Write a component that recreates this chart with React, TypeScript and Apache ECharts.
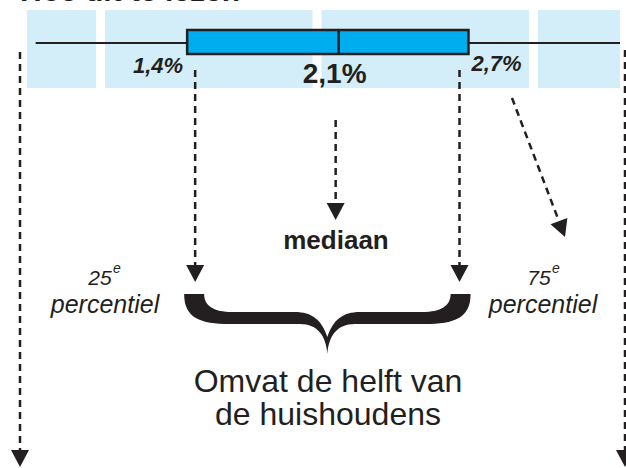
import React, { useEffect, useRef } from 'react';
import * as echarts from 'echarts';

// ---- data ----
const titleText = 'Hoe dit te lezen';
const bandEdges = [0.66, 1, 2, 3, 3.4]; // x-range, split at whole percentages
const boxStats = [0.7, 1.4, 2.1, 2.7, 3.4]; // whisker low, Q1, median, Q3, whisker high
const medianLabel = 'mediaan';
const lowerLabel = ['25', 'e', 'percentiel'];
const upperLabel = ['75', 'e', 'percentiel'];
const braceLabel = ['Omvat de helft van', 'de huishoudens'];

const bands = bandEdges.slice(0, -1).map((v, i) => [v, bandEdges[i + 1]]);

const DARK = '#231f20';
const FONT = '"Liberation Sans", Arial, sans-serif';

const BRACE_D =
  'M 0 0 C 0 24 16 30 46 30 L 116 30 C 134 30 142 42 143.5 60 ' +
  'C 145 42 153 30 171 30 L 241 30 C 271 30 287 24 287 0 L 267 0 ' +
  'C 267 12 257 18 239 18 L 176 18 C 159 18 149 26 143.5 43 ' +
  'C 138 26 128 18 111 18 L 48 18 C 30 18 20 12 20 0 Z';
const BRACE_W = 287;

let braceRegistered = false;
function ensureBrace() {
  if (braceRegistered) return;
  echarts.graphic.registerShape('brace', echarts.graphic.extendPath(BRACE_D, {}) as any);
  braceRegistered = true;
}

const fmt = (v: number) => v.toFixed(1).replace('.', ',') + '%';

function dashedArrow(x1: number, y1: number, x2: number, y2: number, head = 17, half = 9) {
  const dx = x2 - x1;
  const dy = y2 - y1;
  const len = Math.sqrt(dx * dx + dy * dy);
  const ux = dx / len;
  const uy = dy / len;
  const bx = x2 - ux * head;
  const by = y2 - uy * head;
  const px = -uy;
  const py = ux;
  return [
    {
      type: 'line',
      shape: { x1, y1, x2: bx, y2: by },
      style: { stroke: DARK, lineWidth: 2.5, lineDash: [7, 5] },
    },
    {
      type: 'polygon',
      shape: {
        points: [
          [bx + px * half, by + py * half],
          [bx - px * half, by - py * half],
          [x2, y2],
        ],
      },
      style: { fill: DARK },
    },
  ];
}

export default function App() {
  const ref = useRef<HTMLDivElement>(null);

  useEffect(() => {
    if (!ref.current) return;
    ensureBrace();
    const chart = echarts.init(ref.current, undefined, { renderer: 'svg' });

    const option: any = {
      animation: false,
      grid: {
        left: 27,
        right: 6,
        top: 10,
        height: 78,
        show: false,
      },
      xAxis: {
        type: 'value',
        min: bandEdges[0],
        max: bandEdges[bandEdges.length - 1],
        show: false,
      },
      yAxis: { type: 'value', min: 0, max: 1, show: false },
      series: [
        {
          type: 'custom',
          name: 'bands',
          silent: true,
          clip: false,
          data: bands,
          encode: { x: [0, 1] },
          renderItem: (params: any, api: any) => {
            const cs = params.coordSys;
            const s = api.value(0);
            const e = api.value(1);
            let x0 = api.coord([s, 0])[0];
            let x1 = api.coord([e, 0])[0];
            if (s > bandEdges[0]) x0 += 4.5;
            if (e < bandEdges[bandEdges.length - 1]) x1 -= 4.5;
            return {
              type: 'rect',
              shape: { x: x0, y: cs.y, width: x1 - x0, height: cs.height },
              style: { fill: '#d3edf9' },
            };
          },
        },
        {
          type: 'custom',
          name: 'box',
          silent: true,
          clip: false,
          z: 3,
          data: [boxStats],
          encode: { x: [0, 1, 2, 3, 4] },
          renderItem: (params: any, api: any) => {
            const cs = params.coordSys;
            const vals = [0, 1, 2, 3, 4].map((i) => api.value(i));
            const [lo, q1, med, q3, hi] = vals.map((v) => api.coord([v, 0])[0]);
            const top = cs.y;
            const yMid = top + 33;
            const boxTop = top + 20;
            const boxBot = top + 44;
            const children: any[] = [
              { type: 'line', shape: { x1: lo, y1: yMid, x2: q1, y2: yMid }, style: { stroke: DARK, lineWidth: 2 } },
              { type: 'line', shape: { x1: q3, y1: yMid, x2: hi, y2: yMid }, style: { stroke: DARK, lineWidth: 2 } },
              {
                type: 'rect',
                shape: { x: q1, y: boxTop, width: q3 - q1, height: boxBot - boxTop },
                style: { fill: '#00aeef', stroke: DARK, lineWidth: 2.5 },
              },
              { type: 'line', shape: { x1: med, y1: boxTop, x2: med, y2: boxBot }, style: { stroke: DARK, lineWidth: 2.5 } },
              {
                type: 'text',
                x: q1 - 4,
                y: top + 55,
                style: {
                  text: fmt(vals[1]), fill: DARK, fontFamily: FONT, fontSize: 22,
                  fontWeight: 'bold', fontStyle: 'italic', align: 'right', verticalAlign: 'middle',
                },
              },
              {
                type: 'text',
                x: q3 + 3,
                y: top + 53,
                style: {
                  text: fmt(vals[3]), fill: DARK, fontFamily: FONT, fontSize: 22,
                  fontWeight: 'bold', fontStyle: 'italic', align: 'left', verticalAlign: 'middle',
                },
              },
              {
                type: 'text',
                x: med - 4,
                y: top + 63,
                style: {
                  text: fmt(vals[2]), fill: DARK, fontFamily: FONT, fontSize: 28,
                  fontWeight: 'bold', align: 'center', verticalAlign: 'middle',
                },
              },
              ...dashedArrow(q1 + 8, 70, q1 + 8, 282),
              ...dashedArrow(q3 - 9, 70, q3 - 9, 282),
              ...dashedArrow(med - 3, 120, med - 3, 220),
              {
                type: 'brace',
                x: q1 - 3,
                y: 294,
                scaleX: (q3 + 2 - (q1 - 3)) / BRACE_W,
                scaleY: 1,
                style: { fill: DARK },
              },
            ];
            return { type: 'group', children };
          },
        },
      ],
      graphic: [
        {
          type: 'text', left: 20, top: -25,
          style: { text: titleText, fill: DARK, fontFamily: FONT, fontSize: 30, fontWeight: 'bold' },
        },
        {
          type: 'text', x: 336, y: 240,
          style: { text: medianLabel, fill: DARK, fontFamily: FONT, fontSize: 26, fontWeight: 'bold', align: 'center', verticalAlign: 'middle' },
        },
        {
          type: 'text', x: 100, y: 277,
          style: { text: lowerLabel[0], fill: DARK, fontFamily: FONT, fontSize: 21, fontStyle: 'italic', align: 'center', verticalAlign: 'middle' },
        },
        {
          type: 'text', x: 113, y: 268,
          style: { text: lowerLabel[1], fill: DARK, fontFamily: FONT, fontSize: 14, fontStyle: 'italic', align: 'left', verticalAlign: 'middle' },
        },
        {
          type: 'text', x: 105, y: 304,
          style: { text: lowerLabel[2], fill: DARK, fontFamily: FONT, fontSize: 25, fontStyle: 'italic', align: 'center', verticalAlign: 'middle' },
        },
        {
          type: 'text', x: 539, y: 277,
          style: { text: upperLabel[0], fill: DARK, fontFamily: FONT, fontSize: 21, fontStyle: 'italic', align: 'center', verticalAlign: 'middle' },
        },
        {
          type: 'text', x: 552, y: 268,
          style: { text: upperLabel[1], fill: DARK, fontFamily: FONT, fontSize: 14, fontStyle: 'italic', align: 'left', verticalAlign: 'middle' },
        },
        {
          type: 'text', x: 543, y: 304,
          style: { text: upperLabel[2], fill: DARK, fontFamily: FONT, fontSize: 25, fontStyle: 'italic', align: 'center', verticalAlign: 'middle' },
        },
        {
          type: 'text', x: 328, y: 381,
          style: { text: braceLabel[0], fill: DARK, fontFamily: FONT, fontSize: 32, align: 'center', verticalAlign: 'middle' },
        },
        {
          type: 'text', x: 328, y: 414,
          style: { text: braceLabel[1], fill: DARK, fontFamily: FONT, fontSize: 32, align: 'center', verticalAlign: 'middle' },
        },
        ...dashedArrow(20, 52, 20, 467),
        ...dashedArrow(625, 50, 625, 467),
        ...dashedArrow(512, 98, 565, 237),
      ],
    };

    chart.setOption(option);
    return () => chart.dispose();
  }, []);

  return <div ref={ref} style={{ position: 'absolute', left: 0, top: 0, width: 626, height: 468 }} />;
}
